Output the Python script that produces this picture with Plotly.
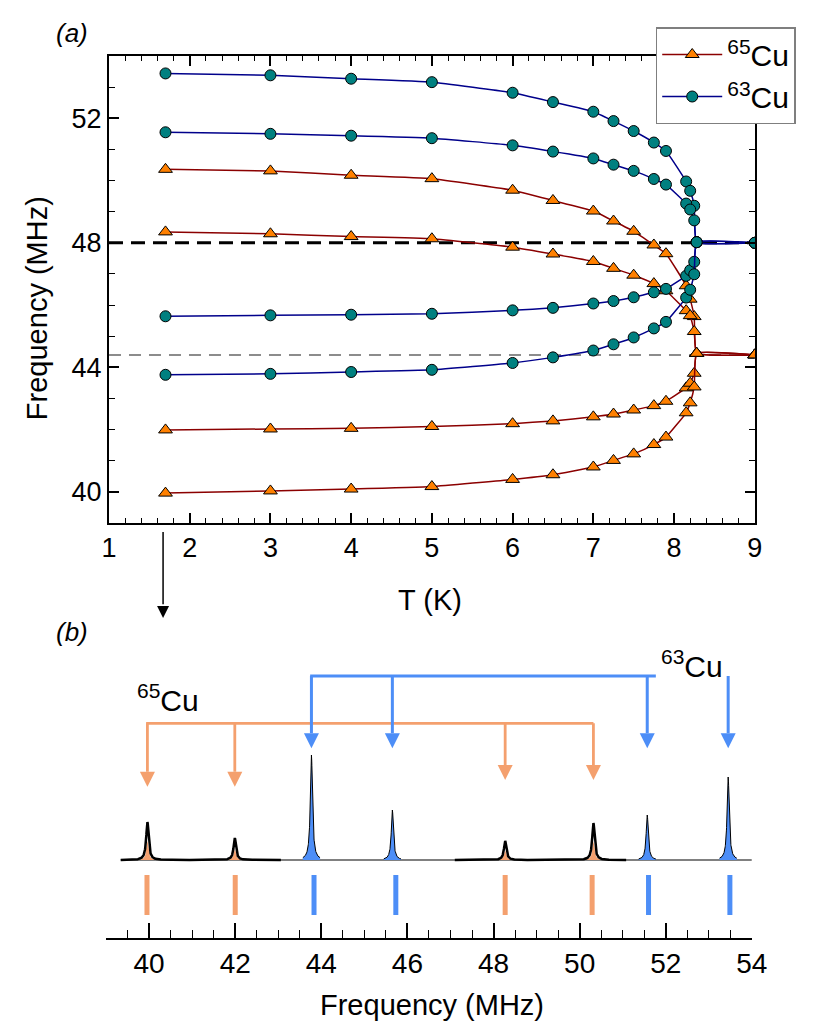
import numpy as np
import plotly.graph_objects as go

# ---------------- (a) line frequencies vs temperature ----------------
T_pts = [1.7, 3, 4, 5, 6, 6.5, 7, 7.25, 7.5, 7.75, 7.9, 8.15, 8.2, 8.25, 8.28, 9]

# 65Cu branches (MHz)
cu65_b1 = [50.36, 50.31, 50.17, 50.06, 49.69, 49.36, 49.02, 48.70, 48.37, 47.93, 47.65, 46.62, 46.19, 45.63, 44.45, 44.4]
cu65_b2 = [48.35, 48.29, 48.20, 48.13, 47.86, 47.64, 47.40, 47.18, 46.96, 46.69, 46.46, 45.82, 45.66, 45.15, 44.45, 44.4]
cu65_b3 = [41.99, 42.02, 42.04, 42.10, 42.19, 42.28, 42.41, 42.50, 42.63, 42.77, 42.91, 43.34, 43.49, 43.81, 44.45, 44.4]
cu65_b4 = [39.96, 40.03, 40.09, 40.17, 40.40, 40.55, 40.80, 41.01, 41.22, 41.52, 41.76, 42.54, 42.86, 43.37, 44.45, 44.4]

# 63Cu branches (MHz)
cu63_b1 = [53.44, 53.38, 53.27, 53.16, 52.82, 52.52, 52.21, 51.91, 51.59, 51.22, 50.95, 49.97, 49.67, 49.19, 48.02, 48.0]
cu63_b2 = [51.55, 51.50, 51.44, 51.36, 51.13, 50.93, 50.71, 50.51, 50.31, 50.05, 49.87, 49.26, 49.07, 48.72, 48.02, 48.0]
cu63_b3 = [45.64, 45.67, 45.69, 45.72, 45.83, 45.91, 46.05, 46.13, 46.25, 46.41, 46.52, 46.94, 47.12, 47.39, 48.02, 48.0]
cu63_b4 = [43.76, 43.79, 43.85, 43.92, 44.14, 44.32, 44.54, 44.74, 44.96, 45.25, 45.46, 46.24, 46.49, 46.99, 48.02, 48.0]

nu_63_high_T = 48.0
nu_65_high_T = 44.4
T_spectrum = 1.67

# ---------------- (b) spectrum at 1.7 K ----------------
peak65_f = [39.96, 41.99, 48.27, 50.32]
peak65_h = [0.38, 0.22, 0.19, 0.37]
peak63_f = [43.77, 45.65, 51.57, 53.45]
peak63_h = [1.05, 0.50, 0.45, 0.83]
stick65_f = [39.95, 42.0, 48.27, 50.29]
stick63_f = [43.83, 45.73, 51.6, 53.49]
measured_65_ranges = [(39.34, 43.06), (47.1, 51.08)]

FONT = "Liberation Sans, Arial, sans-serif"
ORANGE_LINE = "#8b0000"
BLUE_LINE = "#00008b"
ORANGE_PT = "#ff8000"
TEAL_PT = "#008080"
ORANGE_B = "#f4a06e"
BLUE_B = "#4d8ef7"
W, H = 830, 1032


def px_x(p):
    return p / W


def px_y(p):
    return (H - p) / H


def lorentz(x, c, h, w=0.032):
    return h * w ** 2 / ((x - c) ** 2 + w ** 2)


def label(x, y, text, size, **kw):
    # paper-positioned text, centred on (x, y) given in pixels
    fig.add_annotation(x=px_x(x), y=px_y(y), xref="paper", yref="paper", text=text,
                       xanchor="center", yanchor="middle", showarrow=False,
                       font=dict(family=FONT, size=size, color="black"), **kw)


fig = go.Figure()

# 65Cu branches first so 63Cu sits on top
for i, branch in enumerate([cu65_b1, cu65_b2, cu65_b3, cu65_b4]):
    fig.add_trace(go.Scatter(
        x=T_pts, y=branch, mode="lines+markers", name="<sup>65</sup>Cu",
        legendgroup="65", showlegend=(i == 0),
        line=dict(color=ORANGE_LINE, width=1.5, shape="spline", smoothing=0.35),
        marker=dict(symbol="triangle-up", size=12, color=ORANGE_PT,
                    line=dict(color="black", width=1)),
        xaxis="x", yaxis="y"))

for i, branch in enumerate([cu63_b1, cu63_b2, cu63_b3, cu63_b4]):
    fig.add_trace(go.Scatter(
        x=T_pts, y=branch, mode="lines+markers", name="<sup>63</sup>Cu",
        legendgroup="63", showlegend=(i == 0),
        line=dict(color=BLUE_LINE, width=1.5, shape="spline", smoothing=0.35),
        marker=dict(symbol="circle", size=11, color=TEAL_PT,
                    line=dict(color="black", width=1)),
        xaxis="x", yaxis="y"))

# dashed reference lines
fig.add_shape(type="line", xref="x domain", yref="y", x0=0, x1=1,
              y0=nu_63_high_T, y1=nu_63_high_T, layer="below",
              line=dict(color="black", width=3, dash="14px,8px"))
fig.add_shape(type="line", xref="x domain", yref="y", x0=0, x1=1,
              y0=nu_65_high_T, y1=nu_65_high_T, layer="below",
              line=dict(color="#8c8c8c", width=2, dash="12px,8px"))

# arrow from panel (a) down to panel (b): hidden axes spanning the gap
fig.add_trace(go.Scatter(x=[T_spectrum, T_spectrum], y=[1.0, 0.16], mode="lines",
                         line=dict(color="black", width=1.5),
                         showlegend=False, hoverinfo="skip", xaxis="x3", yaxis="y3"))
fig.add_trace(go.Scatter(x=[T_spectrum], y=[0.0], mode="markers",
                         marker=dict(symbol="arrow-down", size=12, color="black"),
                         showlegend=False, hoverinfo="skip", xaxis="x3", yaxis="y3"))

# ---- spectrum panel ----
fig.add_trace(go.Scatter(x=[measured_65_ranges[0][0], 54], y=[0, 0], mode="lines",
                         line=dict(color="#808080", width=2), showlegend=False,
                         xaxis="x2", yaxis="y2"))

# 65Cu simulated (orange) under measured black
for c, h in zip(peak65_f, peak65_h):
    xs = np.linspace(c - 0.15, c + 0.15, 121)
    fig.add_trace(go.Scatter(x=xs, y=lorentz(xs, c, 0.5 * h, 0.03), mode="lines",
                             fill="tozeroy", fillcolor=ORANGE_B, line=dict(width=0),
                             showlegend=False, hoverinfo="skip", xaxis="x2", yaxis="y2"))

for lo, hi in measured_65_ranges:
    xs = np.linspace(lo, hi, 1500)
    ys = sum(lorentz(xs, c, h, 0.034) for c, h in zip(peak65_f, peak65_h))
    fig.add_trace(go.Scatter(x=xs, y=ys, mode="lines", line=dict(color="black", width=2.5),
                             showlegend=False, xaxis="x2", yaxis="y2"))

for c, h in zip(peak63_f, peak63_h):
    xs = np.linspace(c - 0.2, c + 0.2, 161)
    fig.add_trace(go.Scatter(x=xs, y=lorentz(xs, c, h, 0.03), mode="lines",
                             fill="tozeroy", fillcolor=BLUE_B,
                             line=dict(color="black", width=1),
                             showlegend=False, hoverinfo="skip", xaxis="x2", yaxis="y2"))

# calculated line positions (sticks)
for sticks, col in [(stick65_f, ORANGE_B), (stick63_f, BLUE_B)]:
    sx, sy = [], []
    for f in sticks:
        sx += [f, f, None]
        sy += [-0.15, -0.55, None]
    fig.add_trace(go.Scatter(x=sx, y=sy, mode="lines", line=dict(color=col, width=5),
                             showlegend=False, xaxis="x2", yaxis="y2"))

# brackets with arrows
lvl65, lvl63 = 1.367, 1.84
tips65 = [0.733, 0.733, 0.80, 0.80]
tip63 = 1.117
head = 0.15


def bracket(freqs, level, tips, x_end, col, width):
    bx = [freqs[0] - 0.03, x_end, None]
    by = [level, level, None]
    for f, t in zip(freqs, tips):
        bx += [f, f, None]
        by += [level, t + head, None]
    fig.add_trace(go.Scatter(x=bx, y=by, mode="lines", line=dict(color=col, width=width),
                             showlegend=False, hoverinfo="skip", xaxis="x2", yaxis="y2"))
    fig.add_trace(go.Scatter(x=freqs, y=tips, mode="markers",
                             marker=dict(symbol="arrow-down", size=15, color=col),
                             showlegend=False, hoverinfo="skip", xaxis="x2", yaxis="y2"))


bracket(peak65_f, lvl65, tips65, peak65_f[-1], ORANGE_B, 2.8)
bracket(peak63_f, lvl63, [tip63] * 4, peak63_f[2] + 0.2, BLUE_B, 3)

fig.add_annotation(x=40.45, y=1.62, xref="x2", yref="y2", text="<sup>65</sup>Cu", showarrow=False,
                   xanchor="center", yanchor="middle",
                   font=dict(family=FONT, size=30, color="black"))
fig.add_annotation(x=52.6, y=1.96, xref="x2", yref="y2", text="<sup>63</sup>Cu", showarrow=False,
                   xanchor="center", yanchor="middle",
                   font=dict(family=FONT, size=30, color="black"))

# panel labels and titles
label(66, 33, "<i>(a)</i>", 26)
label(66, 632, "<i>(b)</i>", 26)
label(30, 308, "Frequency (MHz)", 29, textangle=-90)
label(435, 600, "T (K)", 29)
label(437, 1005, "Frequency (MHz)", 29)

axis_common = dict(showgrid=False, zeroline=False, ticks="inside", linecolor="black",
                   tickcolor="black", tickfont=dict(family=FONT, size=27, color="black"))

fig.update_layout(
    width=W, height=H,
    margin=dict(l=0, r=0, t=0, b=0),
    plot_bgcolor="white", paper_bgcolor="white",
    font=dict(family=FONT, color="black"),
    xaxis=dict(domain=[px_x(104), px_x(769)], range=[1, 9], dtick=1, tick0=1,
               showline=True, linewidth=2, mirror="ticks", ticklen=10, tickwidth=1.5,
               minor=dict(dtick=0.2, ticklen=5, tickwidth=1.2, ticks="inside", tickcolor="black"),
               anchor="y", **axis_common),
    yaxis=dict(domain=[px_y(523), px_y(56)], range=[39, 54], dtick=4, tick0=40,
               showline=True, linewidth=2, mirror="ticks", ticklen=10, tickwidth=1.5,
               minor=dict(dtick=1, ticklen=6, tickwidth=1.2, ticks="inside", tickcolor="black"),
               anchor="x", **axis_common),
    xaxis2=dict(domain=[px_x(101), px_x(766)], range=[39, 54], dtick=2, tick0=40,
                showline=True, linewidth=2, ticklen=15, tickwidth=1.5,
                minor=dict(dtick=0.5, ticklen=8, tickwidth=1.2, ticks="inside", tickcolor="black"),
                anchor="y2", **axis_common),
    yaxis2=dict(domain=[px_y(937.7), px_y(640)], range=[-0.777, 2.2], visible=False,
                anchor="x2"),
    xaxis3=dict(domain=[px_x(104), px_x(769)], range=[1, 9], visible=False, anchor="y3"),
    yaxis3=dict(domain=[px_y(618), px_y(532)], range=[0, 1], visible=False, anchor="x3"),
    legend=dict(x=px_x(667), y=px_y(27), xanchor="left", yanchor="top",
                bgcolor="white", bordercolor="#7f7f7f", borderwidth=1.5, itemwidth=60,
                font=dict(family=FONT, size=30, color="black"), tracegroupgap=0),
)
fig.update_xaxes(selector=dict(anchor="y2"), tickfont=dict(size=28))

# page body margin would shift the figure; drop it
fig.write_html("out.html", post_script="document.body.style.margin='0px';",
               config={"displayModeBar": False})
